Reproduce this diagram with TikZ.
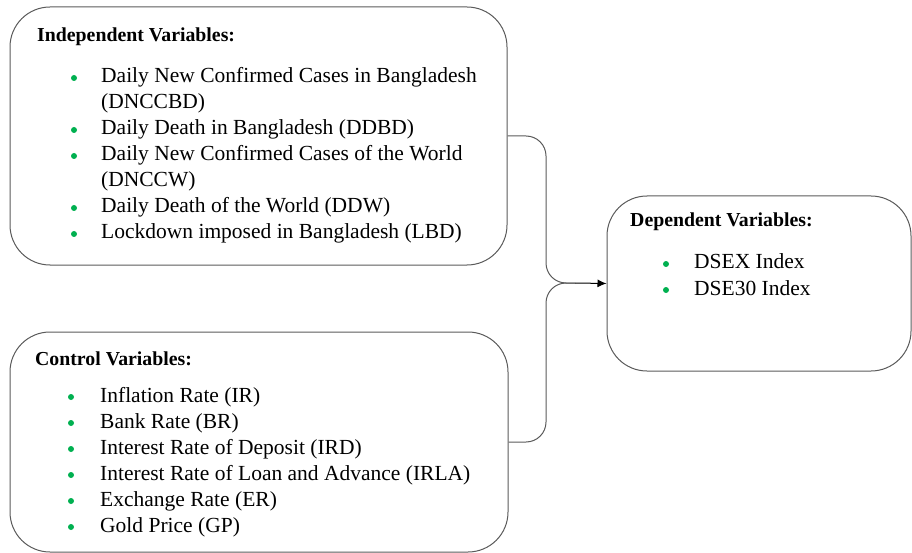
\documentclass[tikz,border=0pt]{standalone}
\usepackage{fontspec}
\setmainfont{Liberation Serif}
\usepackage{tikz}
\usetikzlibrary{arrows.meta}
\definecolor{bulletgreen}{RGB}{0,176,80}
\definecolor{edgegray}{RGB}{90,90,90}

\tikzset{
  varbox/.style = {draw=edgegray, line width=1pt, rounded corners=40pt},
  head/.style = {anchor=base west, inner sep=0pt, font=\fontsize{19.8}{22}\selectfont\bfseries},
  item/.style = {anchor=base west, inner sep=0pt, font=\fontsize{21.5}{24}\selectfont},
  dot/.style = {circle, fill=bulletgreen, inner sep=0pt, minimum size=6pt},
  brace/.style = {draw=edgegray, line width=1pt, rounded corners=20pt}
}

\begin{document}
\begin{tikzpicture}[x=1pt, y=-1pt]
        \useasboundingbox (0,0) rectangle (912,553);
        % the three boxes
        \node[varbox, minimum width=497pt, minimum height=258pt] (indep) at (258.5,136) {};
        \node[varbox, minimum width=498pt, minimum height=220pt] (ctrl) at (259,442) {};
        \node[varbox, minimum width=304pt, minimum height=175pt] (dep) at (759,283.5) {};

        % independent variables
        \node[head] (indephead) at (37,42) {Independent Variables:};
        \node[dot] (d1) at (74,78) {};
        \node[item] (i1) at (101,83) {Daily New Confirmed Cases in Bangladesh};
        \node[item] (i1b) at (101,109) {(DNCCBD)};
        \node[dot] (d2) at (74,130) {};
        \node[item] (i2) at (101,135) {Daily Death in Bangladesh (DDBD)};
        \node[dot] (d3) at (74,156) {};
        \node[item] (i3) at (101,161) {Daily New Confirmed Cases of the World};
        \node[item] (i3b) at (101,187) {(DNCCW)};
        \node[dot] (d4) at (74,208) {};
        \node[item] (i4) at (101,213) {Daily Death of the World (DDW)};
        \node[dot] (d5) at (74,234) {};
        \node[item] (i5) at (101,239) {Lockdown imposed in Bangladesh (LBD)};

        % control variables
        \node[head] (ctrlhead) at (35,365) {Control Variables:};
        \node[dot] (c1) at (71,397) {};
        \node[item] (j1) at (100,402) {Inflation Rate (IR)};
        \node[dot] (c2) at (71,423) {};
        \node[item] (j2) at (100,428) {Bank Rate (BR)};
        \node[dot] (c3) at (71,449) {};
        \node[item] (j3) at (100,454) {Interest Rate of Deposit (IRD)};
        \node[dot] (c4) at (71,475) {};
        \node[item] (j4) at (100,480) {Interest Rate of Loan and Advance (IRLA)};
        \node[dot] (c5) at (71,501) {};
        \node[item] (j5) at (100,506) {Exchange Rate (ER)};
        \node[dot] (c6) at (71,527) {};
        \node[item] (j6) at (100,532) {Gold Price (GP)};

        % dependent variables
        \node[head] (dephead) at (630,227) {Dependent Variables:};
        \node[dot] (e1) at (666,264) {};
        \node[item] (k1) at (694,269) {DSEX Index};
        \node[dot] (e2) at (666,290) {};
        \node[item] (k2) at (694,295) {DSE30 Index};

        % connectors
        \coordinate (spine) at (546,283);
        \coordinate (join) at (575,283);
        \draw[brace] (indep.east) -| (spine) -- (join);
        \draw[brace] (ctrl.east) -| (spine) -- (join);
        \draw[line width=1pt, -{Latex[length=9pt, width=8pt]}] (join) -- (dep.west);
      \end{tikzpicture}
\end{document}
